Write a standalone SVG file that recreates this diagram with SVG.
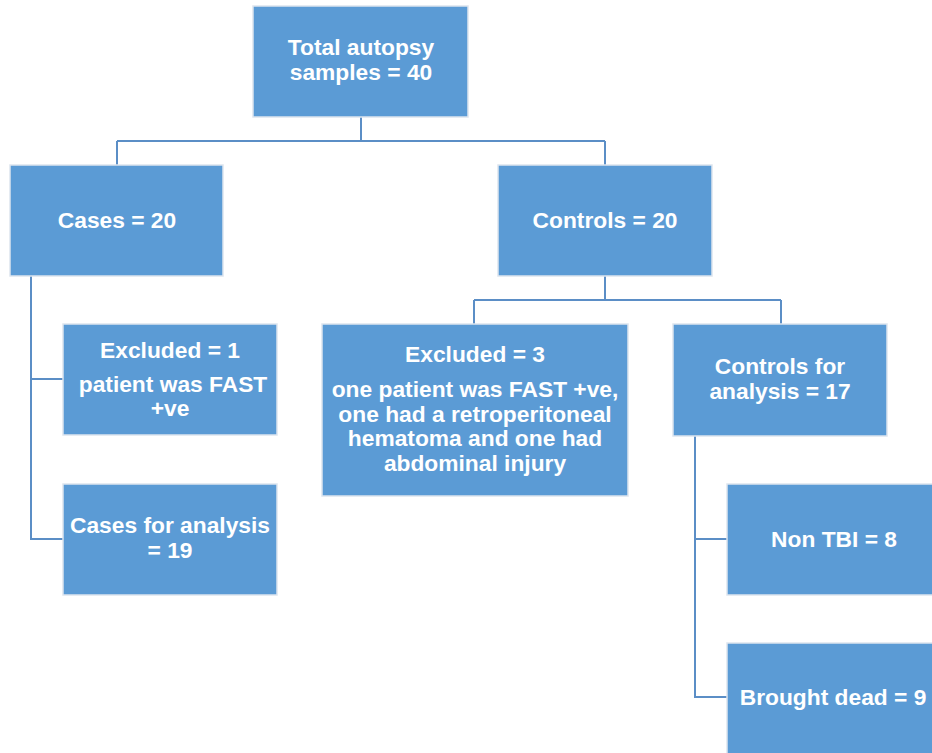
<svg xmlns="http://www.w3.org/2000/svg" width="932" height="753" viewBox="0 0 932 753">
<style>
.box{fill:#5b9bd5;stroke:#dde5ee;stroke-width:1.5}
.t{font-family:"Liberation Sans",Arial,sans-serif;font-weight:bold;font-size:21.5px;fill:#ffffff;text-anchor:middle}
.c{fill:none;stroke:#5b8ec6;stroke-width:2}
</style>
<rect width="932" height="753" fill="#ffffff"/>
<g id="connectors">
<path class="c" d="M361 117V141M117 141H605M117 141V165M605 141V165"/>
<path class="c" d="M31 276V539H63M31 379H63"/>
<path class="c" d="M605 276V300M474 300H781M474 300V324M781 300V324"/>
<path class="c" d="M695 436V697H727M695 539H727"/>
</g>
<g id="total">
<rect class="box" x="253" y="6" width="215" height="111"/>
<text class="t" transform="translate(361 55) scale(1.06 1)">Total autopsy</text>
<text class="t" transform="translate(361 80) scale(1.06 1)">samples = 40</text>
</g>
<g id="cases">
<rect class="box" x="10" y="165" width="213" height="111"/>
<text class="t" transform="translate(117 228) scale(1.06 1)">Cases = 20</text>
</g>
<g id="controls">
<rect class="box" x="498" y="165" width="214" height="111"/>
<text class="t" transform="translate(605 228) scale(1.06 1)">Controls = 20</text>
</g>
<g id="excluded1">
<rect class="box" x="63" y="324" width="214" height="111"/>
<text class="t" transform="translate(170 358) scale(1.06 1)">Excluded = 1</text>
<text class="t" transform="translate(173 392) scale(1.06 1)">patient was FAST</text>
<text class="t" transform="translate(170 416) scale(1.06 1)">+ve</text>
</g>
<g id="casesAnalysis">
<rect class="box" x="63" y="484" width="214" height="111"/>
<text class="t" transform="translate(170 533) scale(1.06 1)">Cases for analysis</text>
<text class="t" transform="translate(170 558) scale(1.06 1)">= 19</text>
</g>
<g id="excluded3">
<rect class="box" x="322" y="324" width="306" height="172"/>
<text class="t" transform="translate(475 362) scale(1.06 1)">Excluded = 3</text>
<text class="t" transform="translate(475 397) scale(1.06 1)">one patient was FAST +ve,</text>
<text class="t" transform="translate(475 422) scale(1.06 1)">one had a retroperitoneal</text>
<text class="t" transform="translate(475 446) scale(1.06 1)">hematoma and one had</text>
<text class="t" transform="translate(475 471) scale(1.06 1)">abdominal injury</text>
</g>
<g id="controlsAnalysis">
<rect class="box" x="673" y="324" width="214" height="112"/>
<text class="t" transform="translate(780 374) scale(1.06 1)">Controls for</text>
<text class="t" transform="translate(780 399) scale(1.06 1)">analysis = 17</text>
</g>
<g id="nonTBI">
<rect class="box" x="727" y="484" width="214" height="111"/>
<text class="t" transform="translate(834 547) scale(1.06 1)">Non TBI = 8</text>
</g>
<g id="broughtDead">
<rect class="box" x="727" y="643" width="214" height="111"/>
<text class="t" transform="translate(833 705) scale(1.06 1)">Brought dead = 9</text>
</g>
</svg>
